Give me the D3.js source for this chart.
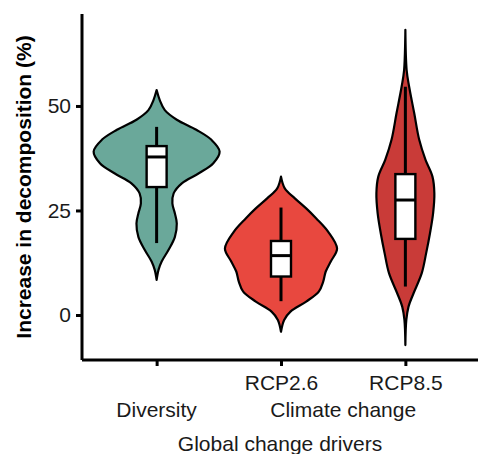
<!DOCTYPE html>
<html>
<head>
<meta charset="utf-8">
<script src="https://cdn.jsdelivr.net/npm/d3@7"></script>
<style>
  body { margin: 0; background: #fff; }
  text { font-family: "Liberation Sans", Arial, Helvetica, sans-serif; }
</style>
</head>
<body>
<svg id="chart" width="478" height="454"></svg>
<script>
// categories and their facet rows
const groups = ["Diversity", "RCP2.6", "RCP8.5"];
const tickLabels = ["", "RCP2.6", "RCP8.5"];
const facetLabels = [["Diversity", ["Diversity"]], ["Climate change", ["RCP2.6", "RCP8.5"]]];
const groupColors = ["#6aa89a", "#e8483f", "#c93b38"];
const yTicks = [0, 25, 50];

// violin outlines: [value, relative density]
const densDiversity = [[53.8, 0], [51.4, 0.05], [49.0, 0.13], [46.7, 0.32], [44.3, 0.63], [41.9, 0.87],
  [39.1, 1.0], [36.3, 0.9], [33.9, 0.67], [31.5, 0.4], [29.1, 0.27], [26.7, 0.25], [24.3, 0.29],
  [21.9, 0.32], [18.7, 0.29], [15.6, 0.19], [12.8, 0.08], [10.8, 0.03], [8.4, 0]];
const densRcp26 = [[33.1, 0], [30.3, 0.06], [27.9, 0.22], [25.5, 0.4], [23.1, 0.56], [19.9, 0.75],
  [15.9, 0.89], [12.8, 0.79], [10.4, 0.71], [8.0, 0.67], [5.6, 0.6], [3.2, 0.4], [0.8, 0.15],
  [-1.2, 0.05], [-4.0, 0]];
const densRcp85 = [[68.2, 0], [58.6, 0.02], [54.6, 0.06], [48.3, 0.14], [41.9, 0.22], [37.1, 0.32],
  [33.1, 0.43], [29.1, 0.46], [24.3, 0.44], [19.5, 0.39], [14.8, 0.33], [10.0, 0.26], [5.2, 0.13],
  [2.0, 0.05], [-1.2, 0.015], [-7.2, 0]];
const densities = [densDiversity, densRcp26, densRcp85];

// box plot statistics
const whiskerLow = [17.2, 3.3, 6.8];
const q1 = [30.6, 9.2, 18.2];
const median = [37.8, 14.2, 27.5];
const q3 = [40.4, 17.7, 33.7];
const whiskerHigh = [45.0, 25.7, 54.6];

const svg = d3.select("#chart");
const plotLeft = 82, plotBottom = 360, plotTop = 14;

const x = d3.scalePoint().domain(groups).range([plotLeft, 480]).padding(0.6);
const y = d3.scaleLinear().domain([-10.77, 72.0]).range([plotBottom, plotTop]);
const w = d3.scaleLinear().domain([0, 1]).range([0, 63]);

// violins
groups.forEach(function (g, i) {
    let cx = x(g);
    let area = d3.area()
        .y(function (d) { return y(d[0]); })
        .x0(function (d) { return cx - w(d[1]); })
        .x1(function (d) { return cx + w(d[1]); })
        .curve(d3.curveCatmullRom);
    svg.append("path")
        .attr("d", area(densities[i]))
        .attr("fill", groupColors[i])
        .attr("stroke", "#000")
        .attr("stroke-width", 2.2)
        .attr("stroke-linejoin", "round");

    // whisker
    svg.append("line")
        .attr("x1", cx).attr("x2", cx)
        .attr("y1", y(whiskerLow[i])).attr("y2", y(whiskerHigh[i]))
        .attr("stroke", "#000").attr("stroke-width", 3);
    // box
    svg.append("rect")
        .attr("x", cx - 10).attr("width", 20)
        .attr("y", y(q3[i])).attr("height", y(q1[i]) - y(q3[i]))
        .attr("fill", "#fff").attr("stroke", "#000").attr("stroke-width", 2.4);
    svg.append("line")
        .attr("x1", cx - 10).attr("x2", cx + 10)
        .attr("y1", y(median[i])).attr("y2", y(median[i]))
        .attr("stroke", "#000").attr("stroke-width", 3);
});

// y axis
let yAxis = svg.append("g")
    .attr("transform", "translate(" + plotLeft + ",0)")
    .call(d3.axisLeft(y).tickValues(yTicks).tickSize(6).tickPadding(5));
yAxis.select(".domain").attr("d", "M0," + plotTop + "V" + plotBottom).attr("stroke-width", 3);
yAxis.selectAll(".tick line").attr("stroke-width", 3);
yAxis.selectAll("text").attr("font-size", 21).attr("fill", "#1a1a1a").attr("font-family", null);

// x axis
let xAxis = svg.append("g")
    .attr("transform", "translate(0," + plotBottom + ")")
    .call(d3.axisBottom(x).tickSize(6).tickPadding(9).tickFormat(function (d, i) { return tickLabels[i]; }));
xAxis.select(".domain").attr("d", "M" + plotLeft + ",0H478").attr("stroke-width", 3);
xAxis.selectAll(".tick line").attr("stroke-width", 3);
xAxis.selectAll("text").attr("font-size", 21).attr("fill", "#1a1a1a").attr("font-family", null);

// facet labels
facetLabels.forEach(function (f) {
    let xs = f[1].map(function (g) { return x(g); });
    svg.append("text")
        .attr("x", d3.mean(xs)).attr("y", 417)
        .attr("text-anchor", "middle")
        .attr("font-size", 21).attr("fill", "#1a1a1a")
        .text(f[0]);
});

// axis titles
svg.append("text")
    .attr("x", 280).attr("y", 451)
    .attr("text-anchor", "middle")
    .attr("font-size", 21).attr("fill", "#1a1a1a")
    .text("Global change drivers");

svg.append("text")
    .attr("transform", "translate(31,187) rotate(-90)")
    .attr("text-anchor", "middle")
    .attr("font-size", 21).attr("font-weight", "bold").attr("fill", "#000")
    .text("Increase in decomposition (%)");
</script>
</body>
</html>
